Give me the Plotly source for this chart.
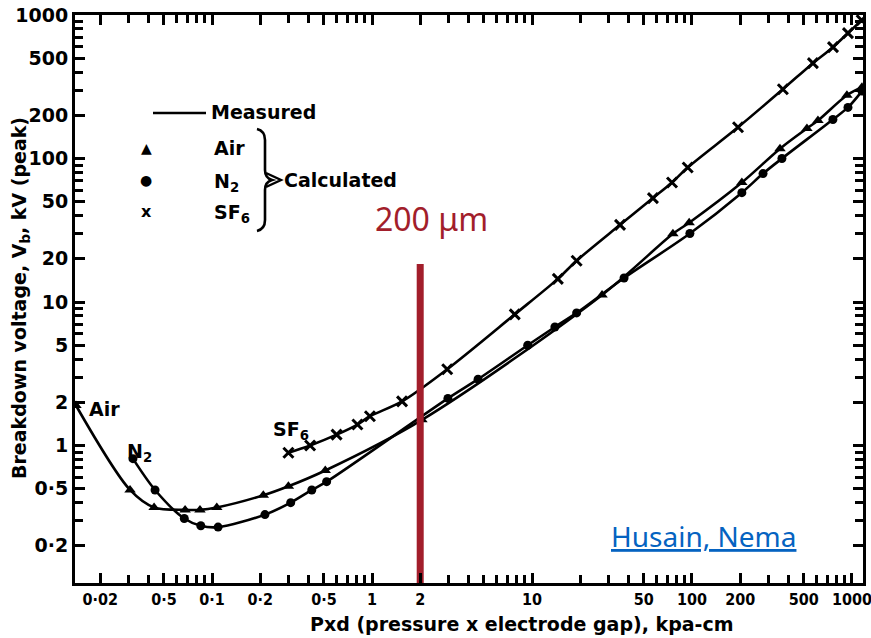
import plotly.graph_objects as go
import numpy as np

# ---------------- data ----------------
air_x = [0.0141, 0.0307, 0.0434, 0.0678, 0.084, 0.107, 0.209, 0.30, 0.51, 2.05,
         27.4, 76, 96, 205, 355, 523, 613, 930, 1155]
air_y = [1.9, 0.49, 0.37, 0.356, 0.356, 0.37, 0.45, 0.52, 0.67, 1.51,
         11.2, 29.9, 35.7, 68, 117, 162, 184, 276, 314]

n2_x = [0.032, 0.044, 0.067, 0.085, 0.109, 0.214, 0.31, 0.42, 0.52, 2.98, 4.6,
        9.4, 13.9, 19, 37.6, 97, 205, 278, 365, 760, 944, 1155]
n2_y = [0.81, 0.49, 0.31, 0.276, 0.27, 0.33, 0.40, 0.49, 0.56, 2.13, 2.9,
        5.0, 6.7, 8.4, 14.7, 30, 57.8, 78.5, 100, 187, 227, 295]

sf6_x = [0.30, 0.41, 0.60, 0.81, 0.97, 1.54, 2.95, 7.8, 14.5, 19, 35.5, 57, 75,
         94, 194, 370, 570, 761, 944, 1150]
sf6_y = [0.89, 1.0, 1.19, 1.40, 1.6, 2.03, 3.4, 8.2, 14.5, 19.4, 34.5, 53, 68,
         86.5, 165, 304, 462, 597, 748, 920]

gap_x = [2, 2]
gap_y = [0.110, 18.4]

x_tickvals = [0.02, 0.05, 0.1, 0.2, 0.5, 1, 2, 10, 50, 100, 200, 500, 1000]
x_ticktext = ['0·02', '0·5', '0·1', '0·2', '0·5', '1', '2', '10', '50', '100',
              '200', '500', '1000']
y_tickvals = [1000, 500, 200, 100, 50, 20, 10, 5, 2, 1, 0.5, 0.2]
y_ticktext = ['1000', '500', '200', '100', '50', '20', '10', '5', '2', '1',
              '0·5', '0·2']

# ---------------- layout helpers ----------------
L, R, T, B = 75, 863, 15, 583
W, H = 871, 638


def px(x):
    return (x - L) / (R - L)


def py(y):
    return (B - y) / (B - T)


minor_x = [m * 10.0 ** d for d in range(-2, 4) for m in range(1, 10)]
minor_y = [m * 10.0 ** d for d in range(-1, 3) for m in range(1, 10)]

BOLD = "DejaVu Sans"
NARROW = "Liberation Sans Narrow, DejaVu Sans Condensed, sans-serif"

fig = go.Figure()

line_style = dict(color='black', width=2.6, shape='spline', smoothing=0.9)

fig.add_trace(go.Scatter(x=air_x, y=air_y, mode='lines+markers', line=line_style,
                         marker=dict(symbol='triangle-up', size=10, color='black'),
                         showlegend=False))
fig.add_trace(go.Scatter(x=n2_x, y=n2_y, mode='lines+markers', line=line_style,
                         marker=dict(symbol='circle', size=9, color='black'),
                         showlegend=False))
fig.add_trace(go.Scatter(x=sf6_x, y=sf6_y, mode='lines+markers', line=line_style,
                         marker=dict(symbol='x-thin', size=10,
                                     line=dict(color='black', width=3)),
                         showlegend=False))
fig.add_trace(go.Scatter(x=gap_x, y=gap_y, mode='lines',
                         line=dict(color='#A21E2B', width=7), showlegend=False))

axis_common = dict(type='log', showgrid=False, zeroline=False, showline=True,
                   linecolor='black', linewidth=3, mirror='allticks',
                   ticks='inside', ticklen=10, tickwidth=2.5, tickcolor='black',
                   automargin=False)

fig.update_xaxes(**axis_common, range=[np.log10(0.0139), 3.069],
                 tickmode='array', tickvals=x_tickvals, ticktext=x_ticktext,
                 ticklabeloverflow='allow',
                 tickfont=dict(family=NARROW, size=16, color='black', weight='bold'),
                 minor=dict(tickmode='array', tickvals=minor_x, ticks='inside',
                            ticklen=8, tickwidth=2.5, tickcolor='black'))
fig.update_yaxes(**axis_common, range=[-0.958, 3.0],
                 tickmode='array', tickvals=y_tickvals, ticktext=y_ticktext,
                 ticklabeloverflow='allow',
                 tickfont=dict(family=BOLD, size=19, color='black', weight='bold'),
                 minor=dict(tickmode='array', tickvals=minor_y, ticks='inside',
                            ticklen=8, tickwidth=2.5, tickcolor='black'))

ann = []


def text(x, y, s, size=19, xanchor='left', color='black', family=BOLD, weight='bold'):
    ann.append(dict(x=px(x), y=py(y), xref='paper', yref='paper', text=s,
                    showarrow=False, xanchor=xanchor, yanchor='middle',
                    font=dict(family=family, size=size, color=color, weight=weight)))


# legend block
text(209, 112, 'Measured')
text(146, 148, '▲', size=14, xanchor='center')
text(212, 148, 'Air')
text(146, 180, '●', size=14, xanchor='center')
text(212, 182, 'N<sub>2</sub>')
text(146, 211, 'x', size=16, xanchor='center')
text(212, 213, 'SF<sub>6</sub>')
text(282, 180, 'Calculated')

# curve labels
text(87, 409, 'Air')
text(125, 452, 'N<sub>2</sub>')
text(271, 430, 'SF<sub>6</sub>')

# annotations in colour
text(431, 218, '200 μm', size=32, xanchor='center', color='#A21E2B',
     family='Noto Sans', weight='normal')
text(703, 536, '<u>Husain, Nema</u>', size=28, xanchor='center', color='#0563C1',
     family='Noto Sans', weight='normal')

# axis titles
ann.append(dict(x=px(522), y=py(624), xref='paper', yref='paper',
                text='Pxd (pressure x electrode gap), kpa-cm', showarrow=False,
                xanchor='center', yanchor='middle',
                font=dict(family=BOLD, size=19, color='black', weight='bold')))
ann.append(dict(x=px(21), y=py(298), xref='paper', yref='paper',
                text='Breakdown voltage, V<sub>b</sub>, kV (peak)', showarrow=False,
                textangle=-90, xanchor='center', yanchor='middle',
                font=dict(family=BOLD, size=19, color='black', weight='bold')))

shapes = []
# legend line
shapes.append(dict(type='line', xref='paper', yref='paper', x0=px(153), x1=px(206),
                   y0=py(113), y1=py(113), line=dict(color='black', width=2.6)))


def P(x, y):
    return f"{px(x):.5f},{py(y):.5f}"


brace = (f"M {P(257,129)} Q {P(265,131)} {P(265,140)} L {P(265,170)} "
         f"Q {P(265,178)} {P(272,180)} Q {P(265,182)} {P(265,190)} L {P(265,220)} "
         f"Q {P(265,229)} {P(257,231)}")
shapes.append(dict(type='path', xref='paper', yref='paper', path=brace,
                   line=dict(color='black', width=2.6)))
arrow = f"M {P(266,173)} L {P(281,180)} L {P(266,187)}"
shapes.append(dict(type='path', xref='paper', yref='paper', path=arrow,
                   line=dict(color='black', width=2.4)))

fig.update_layout(width=W, height=H, margin=dict(l=L, r=W - R, t=T, b=H - B),
                  paper_bgcolor='white', plot_bgcolor='white',
                  annotations=ann, shapes=shapes)

fig.write_html("out.html")
